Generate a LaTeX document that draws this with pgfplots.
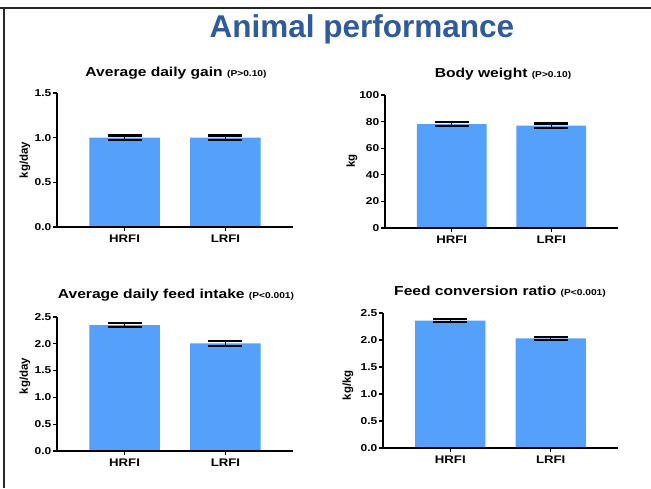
\documentclass[border=0pt]{standalone}
\usepackage{fontspec}
\setmainfont{Liberation Sans}
\newfontfamily\cf[FakeStretch=1.2]{Liberation Sans}
\usepackage{pgfplots}
\pgfplotsset{compat=1.18}
\definecolor{barblue}{RGB}{85,160,250}
\definecolor{titleblue}{RGB}{47,90,155}
\pgfplotsset{
  panel/.style={
    scale only axis, anchor=south west,
    xmin=-0.67, xmax=1.67, ymin=0,
    axis x line*=bottom, axis y line*=left,
    axis line style={-, line width=1.4pt, black},
    tick style={line width=1.2pt, black},
    major tick length=4pt,
    tick align=outside,
    xtick={0,1}, xticklabels={HRFI,LRFI},
    x tick label style={font=\cf\fontsize{11}{13}\selectfont\bfseries},
    y tick label style={font=\cf\fontsize{10}{12}\selectfont\bfseries, inner sep=1.5pt},
    /pgf/number format/assume math mode=true,
    clip=false, axis on top,
    enlargelimits=false,
  },
  onedec/.style={yticklabel style={/pgf/number format/.cd, fixed, fixed zerofill, precision=1}},
  bars/.style={ybar, bar width=0.7, fill=barblue, draw=none,
    error bars/.cd, y dir=both, y explicit,
    error bar style={line width=1.5pt, black},
    error mark options={rotate=90, line width=2.2pt, mark size=17pt, black}},
}
\begin{document}
\begin{tikzpicture}
\useasboundingbox (0,0) rectangle (651pt,-488pt);
\draw[line width=2.5pt, black!85] (0,-8pt) -- (651pt,-8pt);
\draw[line width=2.5pt, black!85] (4pt,-8pt) -- (4pt,-488pt);
\node[anchor=base, font=\fontsize{31.5}{36}\selectfont\bfseries, text=titleblue] at (362pt,-37pt) {Animal performance};

% Average daily gain
\begin{axis}[panel, onedec, at={(57pt,-227pt)}, width=236pt, height=134pt, ymax=1.5, ytick={0,0.5,1,1.5}]
\addplot[bars] coordinates {(0,1.00) +- (0,0.025) (1,1.00) +- (0,0.025)};
\end{axis}
% Body weight
\begin{axis}[panel, at={(385pt,-228pt)}, width=233pt, height=133pt, ymax=100, ytick={0,20,40,60,80,100}]
\addplot[bars] coordinates {(0,78.2) +- (0,1.6) (1,77.0) +- (0,1.6)};
\end{axis}
% Average daily feed intake
\begin{axis}[panel, onedec, at={(57pt,-451pt)}, width=236pt, height=134pt, ymax=2.5, ytick={0,0.5,1,1.5,2,2.5}]
\addplot[bars] coordinates {(0,2.35) +- (0,0.04) (1,2.01) +- (0,0.045)};
\end{axis}
% Feed conversion ratio
\begin{axis}[panel, onedec, at={(383pt,-448pt)}, width=235pt, height=135pt, ymax=2.5, ytick={0,0.5,1,1.5,2,2.5}]
\addplot[bars] coordinates {(0,2.36) +- (0,0.03) (1,2.03) +- (0,0.025)};
\end{axis}

% panel titles
\node[anchor=base, font=\cf\fontsize{13}{15}\selectfont\bfseries] at (176pt,-76pt) {Average daily gain {\fontsize{8.5}{10}\selectfont(P>0.10)}};
\node[anchor=base, font=\cf\fontsize{13}{15}\selectfont\bfseries] at (503pt,-77pt) {Body weight {\fontsize{8.5}{10}\selectfont(P>0.10)}};
\node[anchor=base, font=\cf\fontsize{13}{15}\selectfont\bfseries] at (176pt,-298pt) {Average daily feed intake {\fontsize{8.5}{10}\selectfont(P<0.001)}};
\node[anchor=base, font=\cf\fontsize{13}{15}\selectfont\bfseries] at (500pt,-295pt) {Feed conversion ratio {\fontsize{8.5}{10}\selectfont(P<0.001)}};

% y labels
\node[rotate=90, font=\fontsize{11.5}{13}\selectfont\bfseries] at (25pt,-160pt) {kg/day};
\node[rotate=90, font=\fontsize{11.5}{13}\selectfont\bfseries] at (352pt,-161pt) {kg};
\node[rotate=90, font=\fontsize{11.5}{13}\selectfont\bfseries] at (25pt,-376pt) {kg/day};
\node[rotate=90, font=\fontsize{11.5}{13}\selectfont\bfseries] at (348pt,-385pt) {kg/kg};
\end{tikzpicture}
\end{document}
